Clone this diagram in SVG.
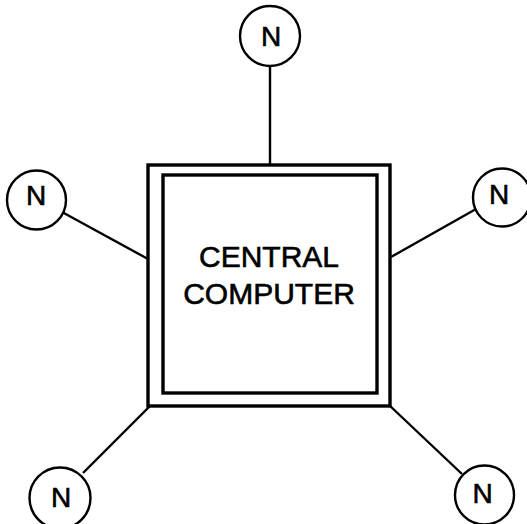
<svg xmlns="http://www.w3.org/2000/svg" width="527" height="524" viewBox="0 0 527 524">
  <style>
    .node circle { fill: #fff; stroke: #000; stroke-width: 2.4; }
    .node text { font-family: "Liberation Sans", Arial, sans-serif; font-size: 28px; text-anchor: middle; fill: #000; stroke: #000; stroke-width: 0.6; }
    .link { stroke: #000; stroke-width: 2.4; fill: none; }
    .box { fill: #fff; stroke: #000; stroke-width: 3.4; }
    .label { font-family: "Liberation Sans", Arial, sans-serif; font-size: 30px; text-anchor: middle; fill: #000; stroke: #000; stroke-width: 0.6; }
  </style>
  <rect width="527" height="524" fill="#fff"/>

  <!-- connectors from the central computer to each node -->
  <g id="connectors">
    <line class="link" x1="270" y1="66" x2="270" y2="165"/>
    <line class="link" x1="62" y1="212" x2="148" y2="259"/>
    <line class="link" x1="391" y1="257" x2="476" y2="209"/>
    <line class="link" x1="83" y1="473" x2="150" y2="406"/>
    <line class="link" x1="389" y1="405" x2="462" y2="474"/>
  </g>

  <!-- central computer: double-framed square -->
  <g id="central-computer">
    <rect class="box" x="148" y="165" width="242" height="241"/>
    <rect class="box" x="163" y="175" width="214" height="218"/>
    <text class="label" x="269" y="267">CENTRAL</text>
    <text class="label" x="269" y="304">COMPUTER</text>
  </g>

  <!-- terminal nodes -->
  <g id="node-top" class="node">
    <circle cx="270" cy="36" r="30"/>
    <text x="271" y="46">N</text>
  </g>
  <g id="node-left" class="node">
    <circle cx="36.5" cy="200" r="29.5"/>
    <text x="36" y="205">N</text>
  </g>
  <g id="node-right" class="node">
    <circle cx="502" cy="197.5" r="29"/>
    <text x="499" y="203.5">N</text>
  </g>
  <g id="node-bottom-left" class="node">
    <circle cx="60" cy="498" r="30.5"/>
    <text x="61" y="506.5">N</text>
  </g>
  <g id="node-bottom-right" class="node">
    <circle cx="484.5" cy="495" r="29.5"/>
    <text x="482.5" y="503">N</text>
  </g>
</svg>
